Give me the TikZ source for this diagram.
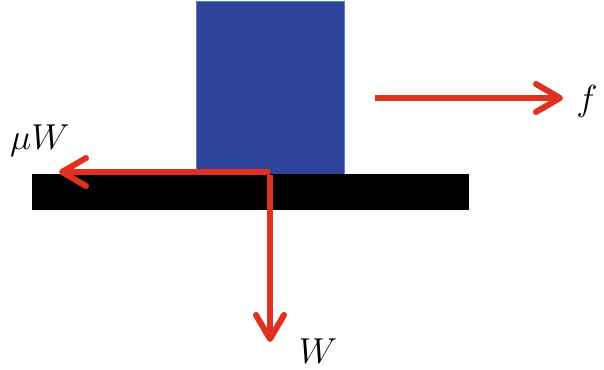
\documentclass[tikz,border=0pt]{standalone}
\usetikzlibrary{arrows.meta}
\definecolor{blockblue}{HTML}{2E439B}
\definecolor{blockedge}{HTML}{5B7FC0}
\definecolor{forcered}{HTML}{E0301F}
\newcommand{\biglbl}[1]{\scalebox{1.45}{\fontsize{29}{30}\selectfont$#1$}}
\begin{document}
\begin{tikzpicture}[x=1pt,y=-1pt,
  force/.style={draw=forcered,line width=6pt,
    -{Straight Barb[length=24pt,width=28pt,line cap=round,line join=round]}},
  lbl/.style={inner sep=0pt}]
\useasboundingbox (0,0) rectangle (604,369);
\node[draw=blockedge,line width=0.8pt,fill=blockblue,minimum width=148pt,minimum height=175pt,inner sep=0pt,anchor=north west] (block) at (196,1) {};
\node[fill=black,minimum width=437pt,minimum height=36pt,inner sep=0pt,anchor=north west] (bar) at (32,174) {};
\coordinate (corner) at (270,172);
\coordinate (muWtip) at (59,172);
\coordinate (Wtip) at (270,342);
\coordinate (fstart) at (375,98);
\coordinate (ftip) at (563,98);
\draw[force] (corner) -- (muWtip);
\draw[force,line cap=butt] ([yshift=-3pt]corner) -- (Wtip);
\draw[force] (fstart) -- (ftip);
\node[lbl] (muW) at (40,141) {\biglbl{\mu W}};
\node[lbl] (f) at (587,101) {\biglbl{f}};
\node[lbl] (W) at (318,351) {\biglbl{W}};
\end{tikzpicture}
\end{document}
